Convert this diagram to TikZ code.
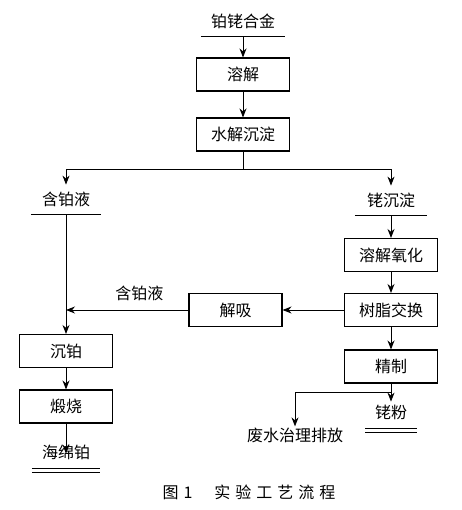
\documentclass[tikz,border=0pt]{standalone}
\usepackage{fontspec}
\newfontfamily\cjk{Noto Sans CJK SC}
\usetikzlibrary{arrows.meta}
\newcommand\capsp{\hspace{5pt}}
\tikzset{
  box/.style={draw, line width=1.1pt, minimum width=93pt, minimum height=33pt, inner sep=0pt},
  prod/.style={anchor=south, inner sep=0pt, minimum height=30pt},
  bar/.style={line width=1pt},
  flow/.style={-{Stealth[length=9pt,width=7pt]}, line width=0.9pt}
}
\begin{document}
\begin{tikzpicture}[x=1pt, y=-1pt, font=\cjk\fontsize{16}{19}\selectfont]
  \useasboundingbox (0,0) rectangle (461,510);

  \node[prod, minimum width=84pt] (alloy) at (243,37) {铂铑合金};
  \node[box] (dissolve) at (243,74.5) {溶解};
  \node[box] (hydro) at (243,134.5) {水解沉淀};
  \node[prod, minimum width=70pt] (ptliq) at (66,215) {含铂液};
  \node[prod, minimum width=72pt] (rhppt) at (391,216) {铑沉淀};
  \node[box] (oxid) at (391,255) {溶解氧化};
  \node[box] (resin) at (391,310) {树脂交换};
  \node[box] (desorb) at (235.5,310) {解吸};
  \node[box] (refine) at (391,366.5) {精制};
  \node[box] (ptprec) at (66,351) {沉铂};
  \node[box] (calcine) at (66,406.5) {煅烧};
  \node[prod, minimum width=68pt] (sponge) at (66,468) {海绵铂};
  \node[prod, minimum width=51pt] (rhpow) at (391,428) {铑粉};
  \node[inner sep=1pt] (waste) at (295,435) {废水治理排放};
  \node (caption) at (249,492) {图\capsp 1\hspace{22pt}实\capsp 验\capsp 工\capsp 艺\capsp 流\capsp 程};

  \draw[bar] (alloy.south west) -- (alloy.south east);
  \draw[bar] (ptliq.south west) -- (ptliq.south east);
  \draw[bar] (rhppt.south west) -- (rhppt.south east);
  \draw[bar] (sponge.south west) -- (sponge.south east);
  \draw[bar] ([yshift=-4pt]sponge.south west) -- ([yshift=-4pt]sponge.south east);
  \draw[bar] (rhpow.south west) -- (rhpow.south east);
  \draw[bar] ([yshift=-4pt]rhpow.south west) -- ([yshift=-4pt]rhpow.south east);

  \draw[flow] (alloy.south) -- (dissolve.north);
  \draw[flow] (dissolve.south) -- (hydro.north);
  \draw[line width=0.9pt] (hydro.south) -- ++(0,18) coordinate (split);
  \draw[flow] (split) -| (ptliq.north);
  \draw[flow] (split) -| (rhppt.north);
  \draw[flow] (rhppt.south) -- (oxid.north);
  \draw[flow] (oxid.south) -- (resin.north);
  \draw[flow] (resin.west) -- (desorb.east);
  \draw[flow] (desorb.west) -- (desorb.west -| ptliq.south) node[pos=0.4, above=5pt] {含铂液};
  \draw[flow] (ptliq.south) -- (ptprec.north);
  \draw[flow] (ptprec.south) -- (calcine.north);
  \draw[flow] (calcine.south) -- ([yshift=-16pt]sponge.north);
  \draw[flow] (resin.south) -- (refine.north);
  \draw[flow] (refine.south) -- ([yshift=-4pt]rhpow.north);
  \draw[flow] ([yshift=-9pt]refine.south) -| (waste.north);
\end{tikzpicture}
\end{document}
